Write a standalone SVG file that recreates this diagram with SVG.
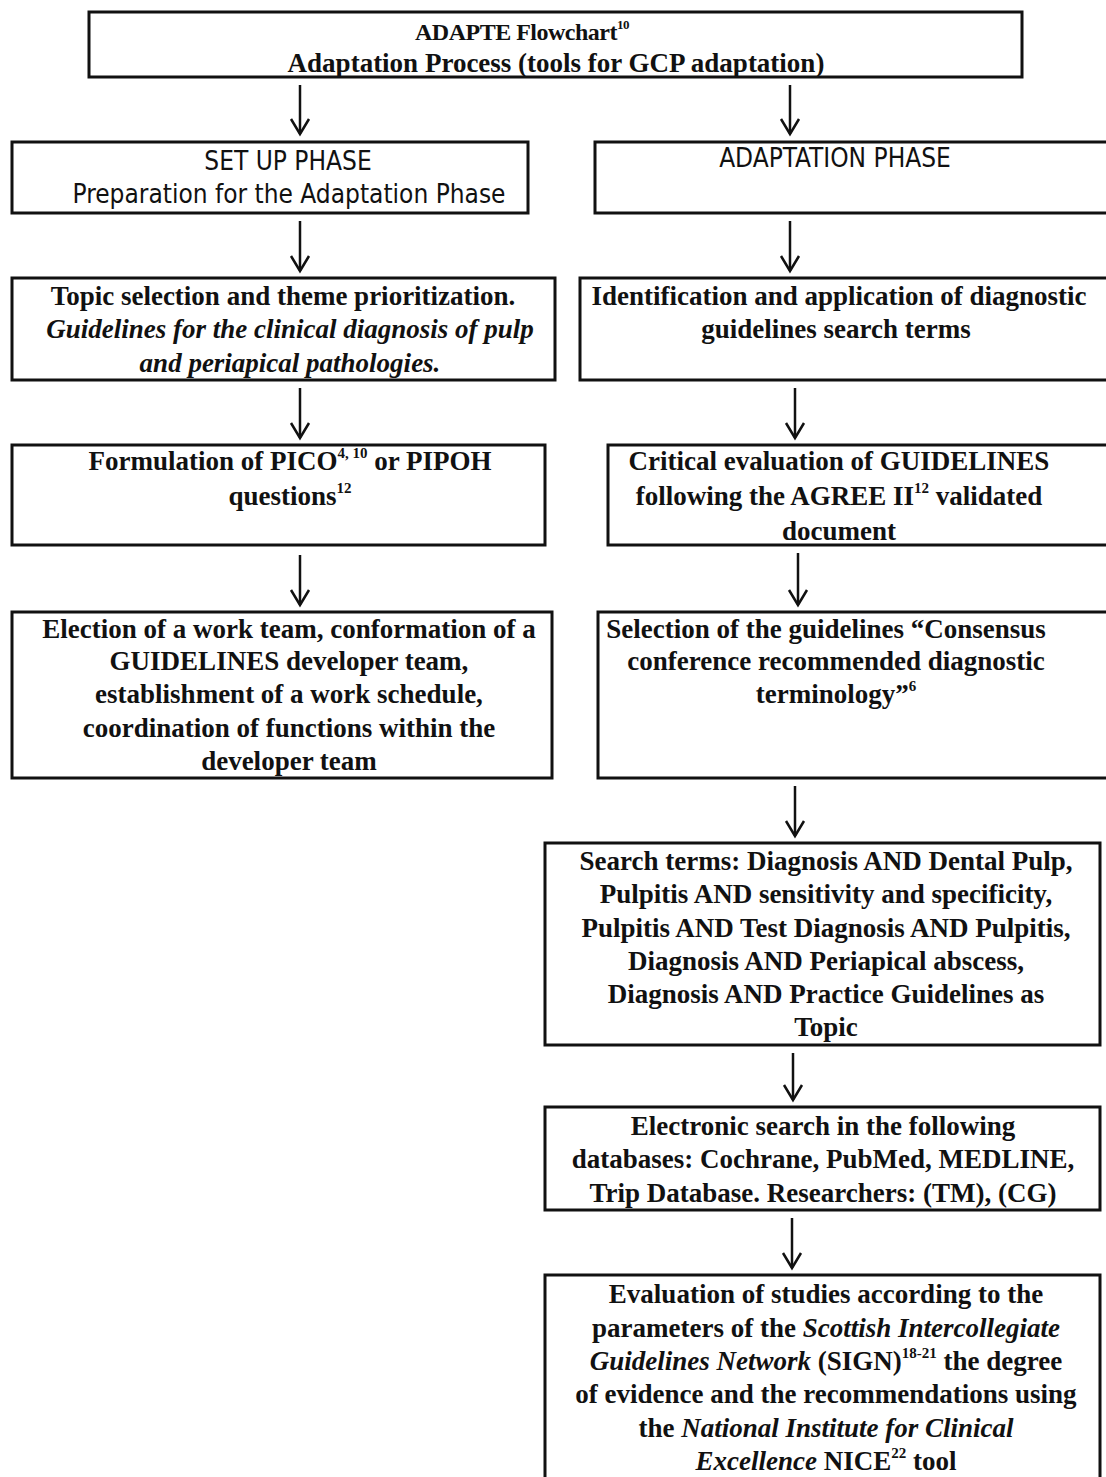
<svg xmlns="http://www.w3.org/2000/svg" width="1106" height="1477" viewBox="0 0 1106 1477">
<defs>
<marker id="ah" markerWidth="22" markerHeight="20" refX="11" refY="17" markerUnits="userSpaceOnUse" viewBox="0 0 22 20">
<polyline points="2,2 11,17 20,2" fill="none" stroke="#111" stroke-width="2.5"/>
</marker>
</defs>
<style>
.box{fill:#fff;stroke:#111;stroke-width:3}
.t{font-family:"Liberation Serif","DejaVu Serif",serif;font-size:27px;font-weight:bold;fill:#111;text-anchor:middle}
.h{font-family:"Liberation Sans Narrow","DejaVu Sans Condensed","Liberation Sans",sans-serif;font-size:26px;fill:#111;text-anchor:middle}
.i{font-style:italic}
.s{font-size:15px}
.c{stroke:#111;stroke-width:2.5;fill:none;marker-end:url(#ah)}
</style>
<rect width="1106" height="1477" fill="#fff"/>
<g id="connectors">
<line class="c" x1="300" y1="85" x2="300" y2="134"/>
<line class="c" x1="790" y1="85" x2="790" y2="134"/>
<line class="c" x1="300" y1="221" x2="300" y2="271"/>
<line class="c" x1="790" y1="221" x2="790" y2="271"/>
<line class="c" x1="300" y1="388" x2="300" y2="438"/>
<line class="c" x1="795" y1="388" x2="795" y2="438"/>
<line class="c" x1="300" y1="555" x2="300" y2="605"/>
<line class="c" x1="798" y1="553" x2="798" y2="605"/>
<line class="c" x1="795" y1="786" x2="795" y2="836"/>
<line class="c" x1="793" y1="1053" x2="793" y2="1100"/>
<line class="c" x1="792" y1="1218" x2="792" y2="1268"/>
</g>
<g id="n_top">
<rect class="box" x="89" y="12" width="933" height="65"/>
<text class="t" x="522" y="40" style="font-size:24px;letter-spacing:-0.5px">ADAPTE Flowchart<tspan class="s" dy="-11" style="font-size:13px">10</tspan></text>
<text class="t" x="556" y="72">Adaptation Process (tools for GCP adaptation)</text>
</g>
<g id="n_setup">
<rect class="box" x="12" y="142" width="516" height="71"/>
<text class="h" x="288" y="170">SET UP PHASE</text>
<text class="h" x="289" y="203">Preparation for the Adaptation Phase</text>
</g>
<g id="n_adapt">
<rect class="box" x="595" y="142" width="513" height="71"/>
<text class="h" x="835" y="167">ADAPTATION PHASE</text>
</g>
<g id="n_topic">
<rect class="box" x="12" y="278" width="543" height="102"/>
<text class="t" x="283" y="305">Topic selection and theme prioritization.</text>
<text class="t i" x="290" y="338">Guidelines for the clinical diagnosis of pulp</text>
<text class="t i" x="290" y="372">and periapical pathologies.</text>
</g>
<g id="n_ident">
<rect class="box" x="580" y="278" width="528" height="102"/>
<text class="t" x="839" y="305">Identification and application of diagnostic</text>
<text class="t" x="836" y="338">guidelines search terms</text>
</g>
<g id="n_pico">
<rect class="box" x="12" y="445" width="533" height="100"/>
<text class="t" x="290" y="470">Formulation of PICO<tspan class="s" dy="-12">4, 10</tspan><tspan dy="12"> or PIPOH</tspan></text>
<text class="t" x="290" y="505">questions<tspan class="s" dy="-12">12</tspan></text>
</g>
<g id="n_critical">
<rect class="box" x="608" y="445" width="500" height="100"/>
<text class="t" x="839" y="470">Critical evaluation of GUIDELINES</text>
<text class="t" x="839" y="505">following the AGREE II<tspan class="s" dy="-12">12</tspan><tspan dy="12"> validated</tspan></text>
<text class="t" x="839" y="540">document</text>
</g>
<g id="n_election">
<rect class="box" x="12" y="612" width="540" height="166"/>
<text class="t" x="289" y="638">Election of a work team, conformation of a</text>
<text class="t" x="289" y="670">GUIDELINES developer team,</text>
<text class="t" x="289" y="703">establishment of a work schedule,</text>
<text class="t" x="289" y="737">coordination of functions within the</text>
<text class="t" x="289" y="770">developer team</text>
</g>
<g id="n_selection">
<rect class="box" x="598" y="612" width="510" height="166"/>
<text class="t" x="826" y="638">Selection of the guidelines “Consensus</text>
<text class="t" x="836" y="670">conference recommended diagnostic</text>
<text class="t" x="836" y="703">terminology”<tspan class="s" dy="-12">6</tspan></text>
</g>
<g id="n_search">
<rect class="box" x="545" y="843" width="555" height="202"/>
<text class="t" x="826" y="870">Search terms: Diagnosis AND Dental Pulp,</text>
<text class="t" x="826" y="903">Pulpitis AND sensitivity and specificity,</text>
<text class="t" x="826" y="937">Pulpitis AND Test Diagnosis AND Pulpitis,</text>
<text class="t" x="826" y="970">Diagnosis AND Periapical abscess,</text>
<text class="t" x="826" y="1003">Diagnosis AND Practice Guidelines as</text>
<text class="t" x="826" y="1036">Topic</text>
</g>
<g id="n_electronic">
<rect class="box" x="545" y="1107" width="555" height="103"/>
<text class="t" x="823" y="1135">Electronic search in the following</text>
<text class="t" x="823" y="1168">databases: Cochrane, PubMed, MEDLINE,</text>
<text class="t" x="823" y="1202">Trip Database. Researchers: (TM), (CG)</text>
</g>
<g id="n_evaluation">
<rect class="box" x="545" y="1275" width="555" height="210"/>
<text class="t" x="826" y="1303">Evaluation of studies according to the</text>
<text class="t" x="826" y="1337">parameters of the <tspan class="i">Scottish Intercollegiate</tspan></text>
<text class="t" x="826" y="1370"><tspan class="i">Guidelines Network</tspan> (SIGN)<tspan class="s" dy="-12">18-21</tspan><tspan dy="12"> the degree</tspan></text>
<text class="t" x="826" y="1403">of evidence and the recommendations using</text>
<text class="t" x="826" y="1437">the <tspan class="i">National Institute for Clinical</tspan></text>
<text class="t" x="826" y="1470"><tspan class="i">Excellence</tspan> NICE<tspan class="s" dy="-12">22</tspan><tspan dy="12"> tool</tspan></text>
</g>
</svg>
